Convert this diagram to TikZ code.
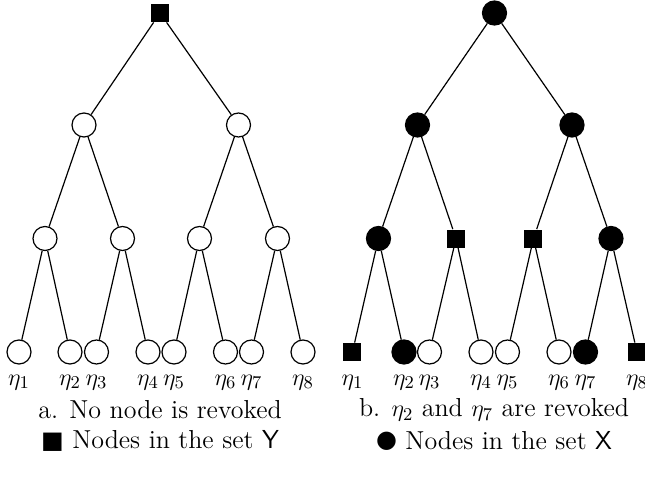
\documentclass[tikz,border=0pt]{standalone}
\usepackage{fontspec}
\newfontfamily\symfont{DejaVu Sans}
\begin{document}
\begin{tikzpicture}[x=0.5pt,y=-0.5pt,
  every node/.style={inner sep=0pt},
  oc/.style={circle,draw,line width=0.6pt,minimum size=12pt},
  fc/.style={circle,draw,fill=black,line width=0.6pt,minimum size=12pt},
  sq/.style={rectangle,fill=black,minimum size=9pt},
  lab/.style={font=\fontsize{13}{15}\selectfont,anchor=center},
  captxt/.style={font=\fontsize{13}{15}\selectfont},
  edge/.style={line width=0.6pt}]
\useasboundingbox (0,0) rectangle (645,483);
% left tree
\node[sq] (a0) at (160,13) {};
\node[oc] (a1) at (84,125) {};
\node[oc] (a2) at (238.5,125) {};
\node[oc] (a3) at (45,238.5) {};
\node[oc] (a4) at (122.5,238.5) {};
\node[oc] (a5) at (199.5,238.5) {};
\node[oc] (a6) at (277.5,238.5) {};
\node[oc] (l1) at (19,352) {};
\node[oc] (l2) at (70,352) {};
\node[oc] (l3) at (96.5,352) {};
\node[oc] (l4) at (148,352) {};
\node[oc] (l5) at (174,352) {};
\node[oc] (l6) at (225.5,352) {};
\node[oc] (l7) at (251.5,352) {};
\node[oc] (l8) at (303,352) {};
\path (0,382.5) coordinate (lbl);
\foreach \i in {1,...,8} {\node[lab] (tl\i) at (l\i|-lbl) {$\eta_{\i}$};}
\draw[edge] (a0) -- (a1) (a0) -- (a2)
  (a1) -- (a3) (a1) -- (a4) (a2) -- (a5) (a2) -- (a6)
  (a3) -- (l1) (a3) -- (l2) (a4) -- (l3) (a4) -- (l4)
  (a5) -- (l5) (a5) -- (l6) (a6) -- (l7) (a6) -- (l8);
% right tree
\node[fc] (b0) at (494.5,13) {};
\node[fc] (b1) at (417.5,125) {};
\node[fc] (b2) at (572,125) {};
\node[fc] (b3) at (378.5,238.5) {};
\node[sq] (b4) at (456,238.5) {};
\node[sq] (b5) at (533.5,238.5) {};
\node[fc] (b6) at (611,238.5) {};
\node[sq] (r1) at (352.5,352) {};
\node[fc] (r2) at (404,352) {};
\node[oc] (r3) at (429.5,352) {};
\node[oc] (r4) at (481,352) {};
\node[oc] (r5) at (507.5,352) {};
\node[oc] (r6) at (559,352) {};
\node[fc] (r7) at (585.5,352) {};
\node[sq] (r8) at (637,352) {};
\foreach \i in {1,...,8} {\node[lab] (tr\i) at (r\i|-lbl) {$\eta_{\i}$};}
\draw[edge] (b0) -- (b1) (b0) -- (b2)
  (b1) -- (b3) (b1) -- (b4) (b2) -- (b5) (b2) -- (b6)
  (b3) -- (r1) (b3) -- (r2) (b4) -- (r3) (b4) -- (r4)
  (b5) -- (r5) (b5) -- (r6) (b6) -- (r7) (b6) -- (r8);
% captions
\node[captxt] (ca) at (160,410) {a. No node is revoked};
\node[captxt] (cay) at (160,441) {\raisebox{0.3pt}{\symfont\fontsize{12}{12}\selectfont\char"25A0} Nodes in the set \textsf{Y}};
\node[captxt] (cb) at (494,410) {b. $\eta_2$ and $\eta_7$ are revoked};
\node[captxt] (cbx) at (494,441) {\raisebox{0.6pt}{\symfont\fontsize{12}{12}\selectfont\char"25CF} Nodes in the set \textsf{X}};
\end{tikzpicture}
\end{document}
